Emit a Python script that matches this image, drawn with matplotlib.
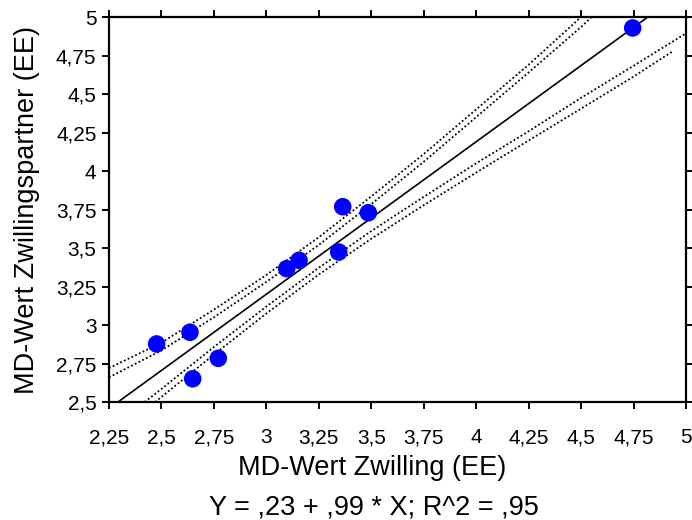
import matplotlib
matplotlib.use("Agg")
import numpy as np
import matplotlib.pyplot as plt
from matplotlib.ticker import FixedLocator, FuncFormatter

plt.rcParams['font.family'] = ['Liberation Sans', 'DejaVu Sans']

# twin pairs: MD value of twin (x) vs. co-twin (y)
twin_x = [2.477, 2.636, 2.649, 2.771, 3.097, 3.156, 3.345, 3.364, 3.486, 4.746]
partner_y = [2.877, 2.953, 2.651, 2.784, 3.366, 3.420, 3.474, 3.768, 3.729, 4.929]

# fitted line from the stated equation
intercept = 0.23
slope = 0.99

# dotted band curves
uo_x = [2.25, 2.5, 2.75, 3.0, 3.25, 3.5, 3.75, 4.0, 4.25, 4.5]
uo_y = [2.72, 2.885, 3.10, 3.325, 3.57, 3.835, 4.11, 4.40, 4.69, 5.0]
ui_x = [2.25, 2.5, 2.75, 3.0, 3.25, 3.5, 3.75, 4.0, 4.25, 4.5, 4.55]
ui_y = [2.66, 2.835, 3.05, 3.28, 3.52, 3.785, 4.06, 4.35, 4.64, 4.935, 5.0]
ln_x = [2.42, 2.5, 2.75, 3.0, 3.25, 3.5, 3.75, 4.0, 4.25, 4.5, 4.75, 5.0]
ln_y = [2.5, 2.585, 2.857, 3.12, 3.372, 3.61, 3.832, 4.05, 4.258, 4.475, 4.683, 4.894]
lf_x = [2.47, 2.75, 3.0, 3.25, 3.5, 3.75, 4.0, 4.25, 4.5, 4.75, 4.94]
lf_y = [2.5, 2.808, 3.075, 3.328, 3.56, 3.778, 3.99, 4.198, 4.405, 4.613, 4.78]

x_ticks = [2.25, 2.5, 2.75, 3, 3.25, 3.5, 3.75, 4, 4.25, 4.5, 4.75, 5]
y_ticks = [2.5, 2.75, 3, 3.25, 3.5, 3.75, 4, 4.25, 4.5, 4.75, 5]


def comma_fmt(v, pos=None):
    s = ('%g' % v).replace('.', ',')
    return s


fig = plt.figure(figsize=(6.92, 5.2), dpi=100)
ax = fig.add_axes([0.1575, 0.2269, 0.8338, 0.7404])

line_x = np.array([2.25, 5.0])
ax.plot(line_x, intercept + slope * line_x, color='black', lw=1.2, zorder=2)

dot = (0, (1, 1.3))
for bx, by in [(uo_x, uo_y), (ui_x, ui_y), (ln_x, ln_y), (lf_x, lf_y)]:
    ax.plot(bx, by, color='black', lw=1.3, linestyle=dot, zorder=2)

ax.scatter(twin_x, partner_y, s=160, color='#0000ff', edgecolors='none', zorder=3)

ax.set_xlim(2.25, 5)
ax.set_ylim(2.5, 5)
ax.xaxis.set_major_locator(FixedLocator(x_ticks))
ax.yaxis.set_major_locator(FixedLocator(y_ticks))
ax.xaxis.set_major_formatter(FuncFormatter(comma_fmt))
ax.yaxis.set_major_formatter(FuncFormatter(comma_fmt))

for sp in ax.spines.values():
    sp.set_linewidth(1.6)

ax.tick_params(axis='both', direction='out', length=5, width=1.4, labelsize=15,
               top=True, right=True, labeltop=False, labelright=False)
ax.tick_params(axis='x', pad=14)
ax.tick_params(axis='y', pad=4)

ax.set_xlabel('MD-Wert Zwilling (EE)', fontsize=19.5)
ax.set_ylabel('MD-Wert Zwillingspartner (EE)', fontsize=19.5)
ax.xaxis.set_label_coords(0.456, -0.138)
ax.yaxis.set_label_coords(-0.12, 0.5)

fig.text(0.540, 0.0115, 'Y = ,23 + ,99 * X; R^2 = ,95', fontsize=19.5,
         ha='center', va='baseline')

fig.savefig('out.png', dpi=100)
